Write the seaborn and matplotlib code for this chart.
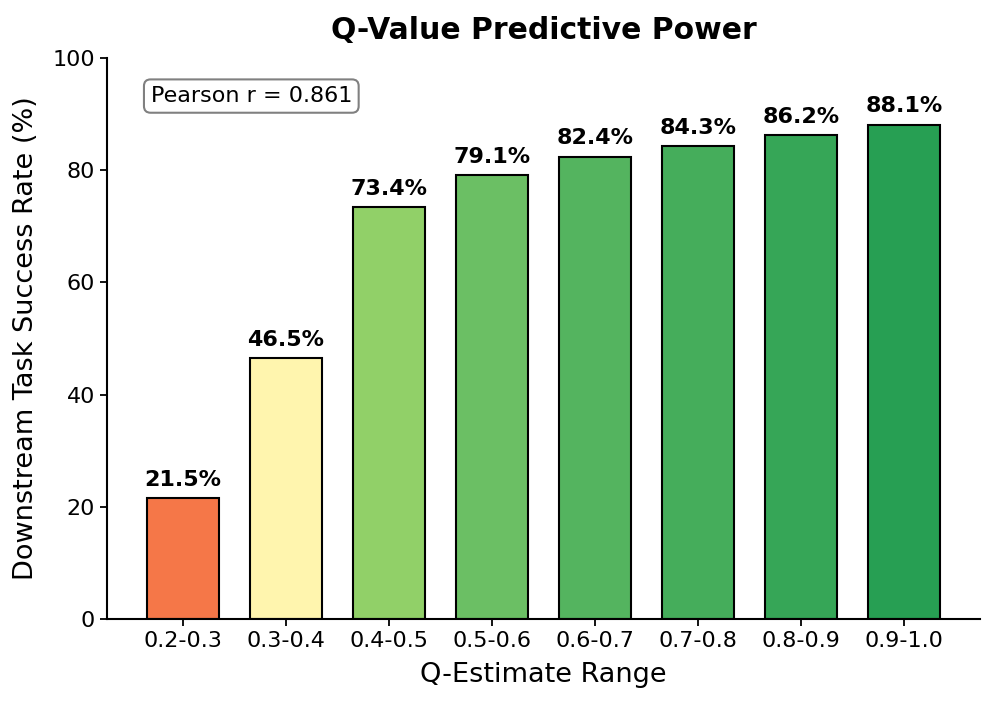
import numpy as np
import pandas as pd
import matplotlib
matplotlib.use("Agg")
import matplotlib.pyplot as plt
import seaborn as sns

# Data
ranges = ["0.2-0.3", "0.3-0.4", "0.4-0.5", "0.5-0.6", "0.6-0.7", "0.7-0.8", "0.8-0.9", "0.9-1.0"]
success = [21.5, 46.5, 73.4, 79.1, 82.4, 84.3, 86.2, 88.1]
pearson_r = 0.861

df = pd.DataFrame({"range": ranges, "success": success})

# Style
sns.set_style("ticks")
plt.rcParams['font.family'] = ['DejaVu Sans']
plt.rcParams['text.color'] = 'black'
plt.rcParams['axes.labelcolor'] = 'black'
plt.rcParams['xtick.color'] = 'black'
plt.rcParams['ytick.color'] = 'black'
plt.rcParams['axes.edgecolor'] = 'black'

colors = [plt.cm.RdYlGn(v / 100) for v in success]

fig, ax = plt.subplots(figsize=(9.96, 7.05), dpi=100)
fig.subplots_adjust(left=0.1074, right=0.984, top=0.9177, bottom=0.122)

sns.barplot(
    x="range",
    y="success",
    hue="range",
    data=df,
    palette=colors,
    legend=False,
    width=0.7,
    edgecolor="black",
    linewidth=1.5,
    saturation=1,
    ax=ax
)

for i, v in enumerate(success):
    ax.text(i, v + 1.5, f"{v:.1f}%", ha="center", va="bottom",
            fontsize=16, fontweight="bold")

ax.text(0.05, 0.95, f"Pearson r = {pearson_r:.3f}", transform=ax.transAxes,
        fontsize=16, va="top", ha="left",
        bbox=dict(boxstyle="round,pad=0.3", facecolor="white", edgecolor="gray", linewidth=1.5))

ax.set_xlim(-0.735, len(ranges) - 1 + 0.735)
ax.set_ylim(0, 100)
ax.set_title("Q-Value Predictive Power", fontsize=21.5, fontweight="bold", pad=14)
ax.set_xlabel("Q-Estimate Range", fontsize=19.5, labelpad=8)
ax.set_ylabel("Downstream Task Success Rate (%)", fontsize=19.5, labelpad=10)
ax.tick_params(axis="both", labelsize=16, length=5, width=1.3)
for s in ["left", "bottom"]:
    ax.spines[s].set_linewidth(1.5)
sns.despine(ax=ax)

fig.savefig("out.png", dpi=100)
